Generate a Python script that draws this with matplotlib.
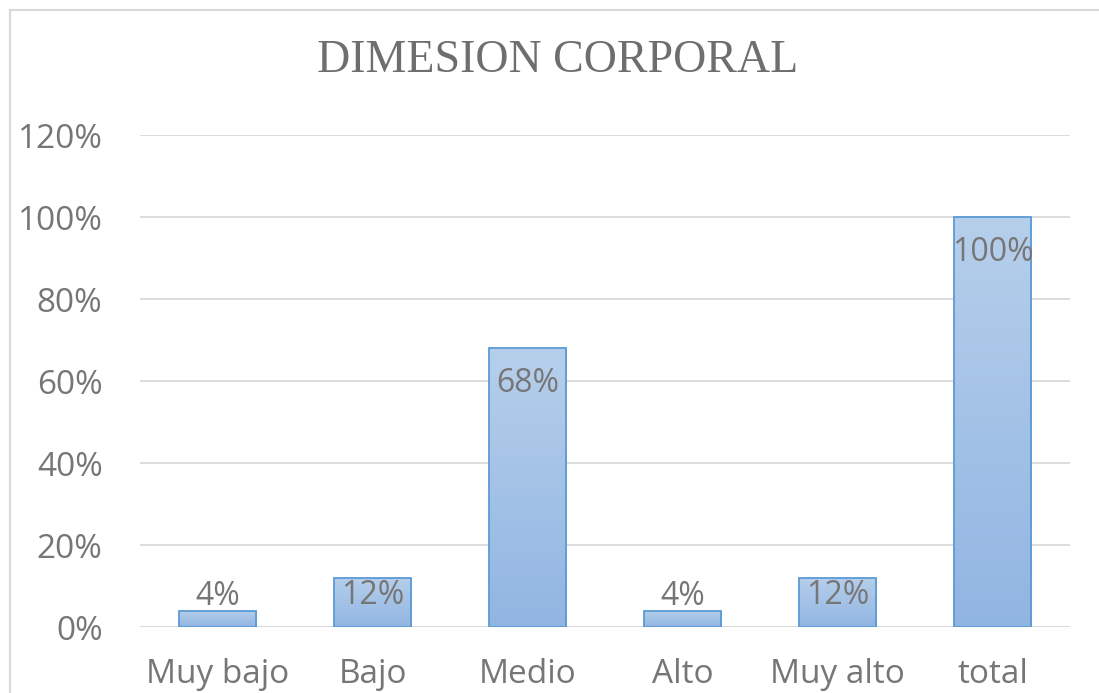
import numpy as np
import matplotlib.pyplot as plt
from matplotlib.colors import LinearSegmentedColormap
from matplotlib.lines import Line2D

categorias = ['Muy bajo', 'Bajo', 'Medio', 'Alto', 'Muy alto', 'total']
porcentajes = [4, 12, 68, 4, 12, 100]
etiquetas = ['4%', '12%', '68%', '4%', '12%', '100%']
yticks = [0, 20, 40, 60, 80, 100, 120]

gris = '#767676'

fig = plt.figure(figsize=(10.99, 6.93), dpi=100)
ax = fig.add_axes([140 / 1099, (693 - 627) / 693, 930 / 1099, 492 / 693])

# degradado de las barras
cmap = LinearSegmentedColormap.from_list('azul', ['#91b5e2', '#b6cfeb'])
x = np.arange(len(categorias))
barras = ax.bar(x, porcentajes, width=0.5, color='none', edgecolor='#5b9bd5',
                linewidth=1.3, zorder=3)
grad = np.linspace(0, 1, 256).reshape(-1, 1)
for b in barras:
    x0, y0 = b.get_x(), b.get_y()
    w, h = b.get_width(), b.get_height()
    im = ax.imshow(grad, cmap=cmap, origin='lower', aspect='auto',
                   extent=[x0, x0 + w, y0, y0 + h], zorder=2)
    im.set_clip_path(b)

# etiquetas de datos (dentro del extremo, o encima si la barra es corta)
for xi, v, txt in zip(x, porcentajes, etiquetas):
    if v >= 30:
        ax.text(xi, v - 4.6, txt, ha='center', va='top', fontsize=23,
                color=gris, family='Open Sans', zorder=4)
    elif v >= 10:
        ax.text(xi, v - 0.2, txt, ha='center', va='top', fontsize=23,
                color=gris, family='Open Sans', zorder=4)
    else:
        ax.text(xi, v - 0.6, txt, ha='center', va='bottom', fontsize=23,
                color=gris, family='Open Sans', zorder=4)

ax.set_xlim(-0.5, len(categorias) - 0.5)
ax.set_ylim(0, 120)
ax.set_yticks(yticks)
ax.set_yticklabels([f'{t}%' for t in yticks])
ax.set_xticks(x)
ax.set_xticklabels(categorias)
ax.yaxis.grid(True, color='#d9d9d9', linewidth=1.3, zorder=0)
ax.set_axisbelow(True)
for s in ax.spines.values():
    s.set_visible(False)
ax.tick_params(length=0, labelsize=24, labelcolor=gris)
for lab in ax.get_xticklabels() + ax.get_yticklabels():
    lab.set_family('Open Sans')
ax.tick_params(axis='x', pad=22)
ax.tick_params(axis='y', pad=27)
ax.axhline(0, color='#d9d9d9', linewidth=1.3, zorder=1)

fig.text(558 / 1099, 1 - 61 / 693, 'DIMESION CORPORAL', ha='center', va='center',
         fontsize=33, color='#6e6e6e', family='Liberation Serif')

# borde del gráfico
fig.add_artist(Line2D([10 / 1099, 1], [1 - 10 / 693, 1 - 10 / 693],
                      transform=fig.transFigure, color='#d9d9d9', linewidth=1.5))
fig.add_artist(Line2D([10 / 1099, 10 / 1099], [0, 1 - 10 / 693],
                      transform=fig.transFigure, color='#d9d9d9', linewidth=1.5))

fig.savefig('out.png', dpi=100)
